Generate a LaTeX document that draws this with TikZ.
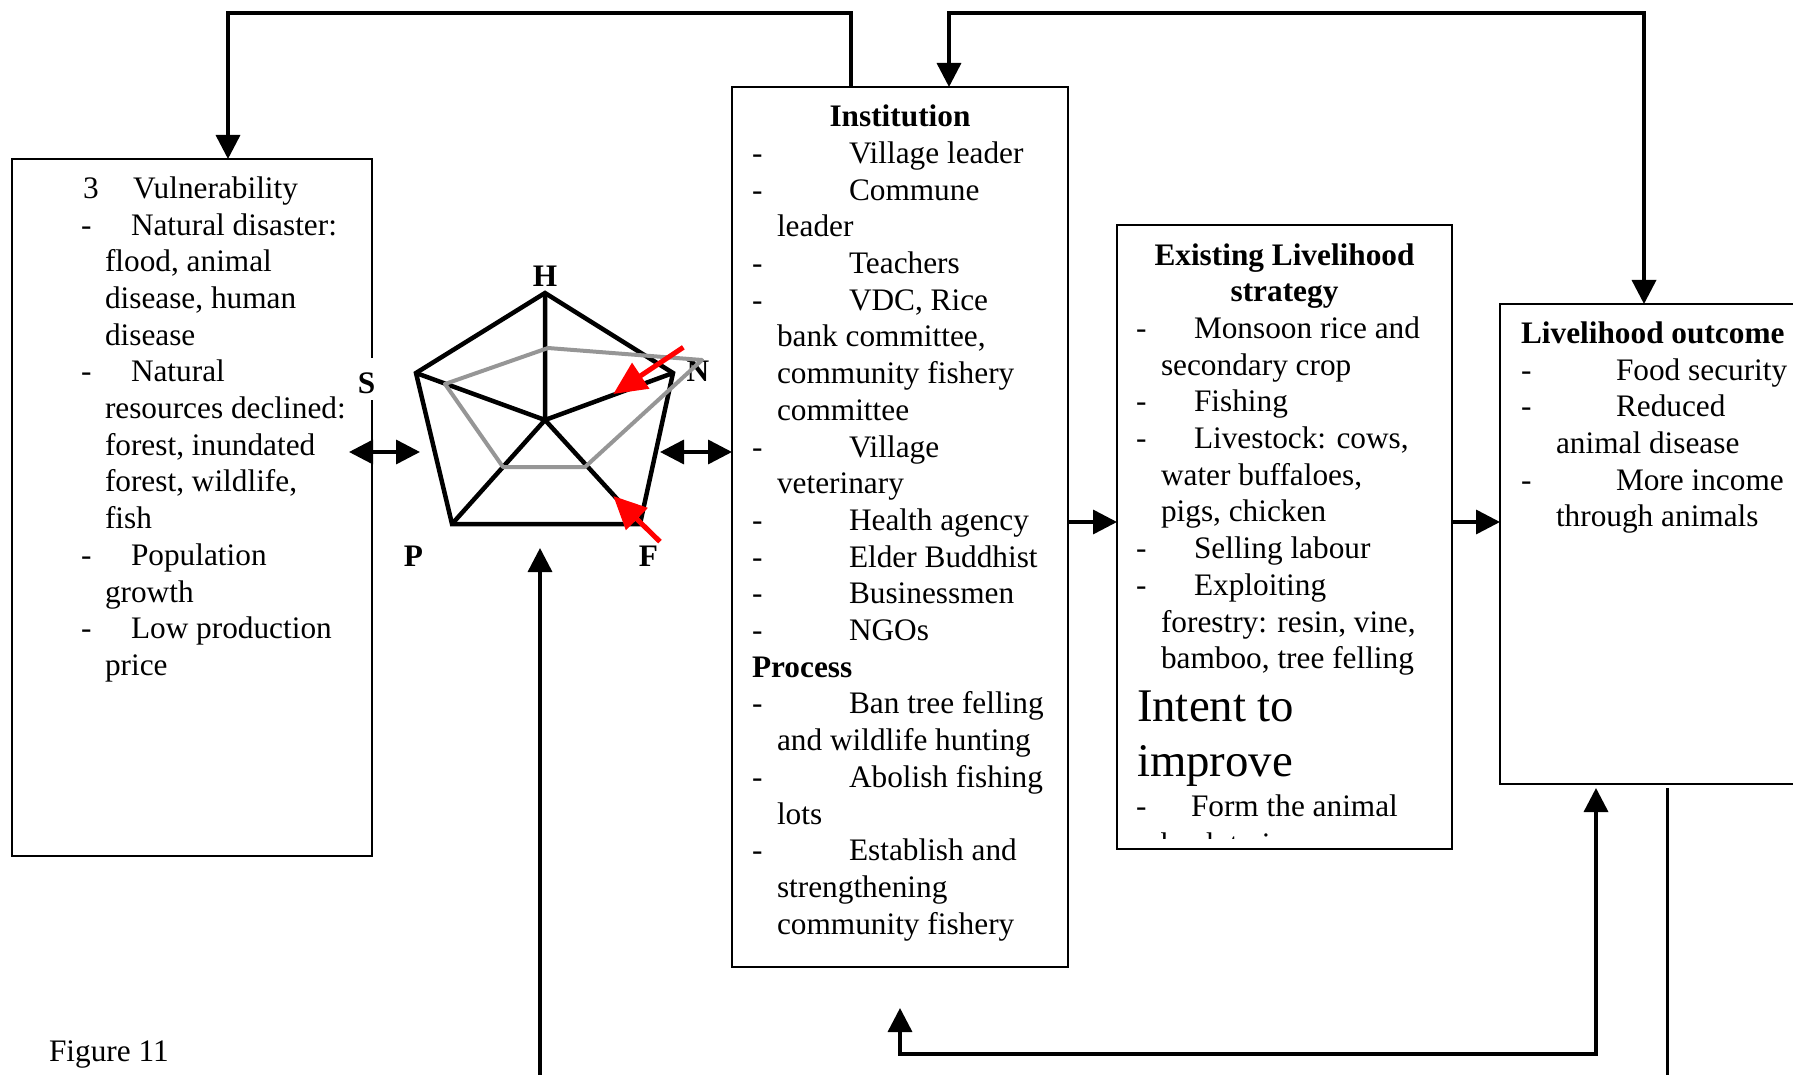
\documentclass[tikz,border=0pt]{standalone}
\usepackage{fontspec}
\setmainfont{Liberation Serif}
\usetikzlibrary{arrows.meta,calc}
\definecolor{pgrey}{RGB}{150,150,150}
\newcounter{tlc}
\newcommand\T[4][]{\stepcounter{tlc}\edef\tlname{tl\arabic{tlc}}\node[txt,#1] (\tlname) at (#2,{#3}) {#4};}
% Vulnerability box lines
\newcommand\VL[2]{\T{105}{198.3+36.7*#1}{#2}}
\newcommand\VD[2]{\T{81}{198.3+36.7*#1}{-}\T{131}{198.3+36.7*#1}{#2}}
% Institution box lines
\newcommand\IL[2]{\T{777}{126.7+36.7*#1}{#2}}
\newcommand\ID[2]{\T{752}{126.7+36.7*#1}{-}\T{849}{126.7+36.7*#1}{#2}}
% Existing strategy lines
\newcommand\EL[2]{\T{1161}{265+36.7*#1}{#2}}
\newcommand\ED[2]{\T{1136}{265+36.7*#1}{-}\T{1194}{265+36.7*#1}{#2}}
% Outcome lines
\newcommand\OL[2]{\T{1556}{343.3+36.7*#1}{#2}}
\newcommand\OD[2]{\T{1521}{343.3+36.7*#1}{-}\T{1616}{343.3+36.7*#1}{#2}}
\tikzset{
  txt/.style={anchor=base west, inner sep=0pt, outer sep=0pt, font=\fontsize{15.65pt}{18pt}\selectfont},
  bold/.style={font=\fontsize{15.65pt}{18pt}\selectfont\bfseries},
  big/.style={font=\fontsize{23.4pt}{28pt}\selectfont},
  box/.style={draw, line width=1pt, inner sep=0pt, outer sep=0pt},
  lbl/.style={anchor=base, inner sep=0pt, outer sep=0pt, font=\fontsize{15.65pt}{18pt}\selectfont\bfseries},
  conn/.style={line width=1.75pt},
  pent/.style={line width=2.25pt, line join=miter},
  greyl/.style={line width=2pt, draw=pgrey, line join=round},
  redarr/.style={line width=2.5pt, draw=red, -{Triangle[length=16.5pt,width=15pt,fill=red]}},
}
\begin{document}
\begin{tikzpicture}[x=0.5pt,y=-0.5pt,>={Triangle[length=12pt,width=12pt]}]
\useasboundingbox (0,0) rectangle (1793,1075);
% boxes
\node[box,minimum width=180pt,minimum height=348.5pt] (vul) at (192,507.5) {};
\node[box,minimum width=168pt,minimum height=440pt] (inst) at (900,527) {};
\node[box,minimum width=167.5pt,minimum height=312pt] (exist) at (1284.5,537) {};
\node[box,minimum width=160pt,minimum height=240pt] (outc) at (1660,544) {};
% pentagon labels
\node[lbl,fill=white,inner xsep=1pt,text height=17.5pt,text depth=3.3pt] (S) at (366.5,393.3) {S};
\node[lbl,fill=white,anchor=base west,text height=15.3pt,text depth=2.2pt] (N) at (686.7,381.7) {N\hspace{13pt}};
\node[lbl] (H) at (545,286.7) {H};
\node[lbl] (P) at (413.5,566.7) {P};
\node[lbl] (F) at (648.5,566.7) {F};
% pentagon
\coordinate (pH) at (545,293);
\coordinate (pS) at (416,373);
\coordinate (pN) at (673,373);
\coordinate (pP) at (452,524);
\coordinate (pF) at (640,524);
\coordinate (pC) at (545,420);
\draw[pent] (pH) -- (pN) -- (pF) -- (pP) -- (pS) -- cycle;
\draw[pent] (pC) -- (pH) (pC) -- (pN) (pC) -- (pF) (pC) -- (pP) (pC) -- (pS);
\coordinate (g1) at (548,348);
\coordinate (g2) at (702,360);
\coordinate (g3) at (585,467);
\coordinate (g4) at (503,467);
\coordinate (g5) at (445,384);
\draw[greyl] (g1) -- (g2) -- (g3) -- (g4) -- (g5) -- cycle;
% red arrows
\coordinate (r1s) at (683.3,347.3);
\coordinate (r1e) at (613.3,394);
\coordinate (r2s) at (660,541.7);
\coordinate (r2e) at (613.3,496);
\draw[redarr] (r1s) -- (r1e);
\draw[redarr] (r2s) -- (r2e);
% Vulnerability text
\T{83}{198.3}{3}
\T{133}{198.3}{Vulnerability}
\VD{1}{Natural disaster:}
\VL{2}{flood, animal}
\VL{3}{disease, human}
\VL{4}{disease}
\VD{5}{Natural}
\VL{6}{resources declined:}
\VL{7}{forest, inundated}
\VL{8}{forest, wildlife,}
\VL{9}{fish}
\VD{10}{Population}
\VL{11}{growth}
\VD{12}{Low production}
\VL{13}{price}
% Institution text
\T[bold,anchor=base]{900}{126.7}{Institution}
\ID{1}{Village leader}
\ID{2}{Commune}
\IL{3}{leader}
\ID{4}{Teachers}
\ID{5}{VDC, Rice}
\IL{6}{bank committee,}
\IL{7}{community fishery}
\IL{8}{committee}
\ID{9}{Village}
\IL{10}{veterinary}
\ID{11}{Health agency}
\ID{12}{Elder Buddhist}
\ID{13}{Businessmen}
\ID{14}{NGOs}
\T[bold]{752}{126.7+36.7*15}{Process}
\ID{16}{Ban tree felling}
\IL{17}{and wildlife hunting}
\ID{18}{Abolish fishing}
\IL{19}{lots}
\ID{20}{Establish and}
\IL{21}{strengthening}
\IL{22}{community fishery}
% Existing strategy text
\T[bold,anchor=base]{1284.5}{265}{Existing Livelihood}
\T[bold,anchor=base]{1284.5}{265+36.7}{strategy}
\ED{2}{Monsoon rice and}
\EL{3}{secondary crop}
\ED{4}{Fishing}
\ED{5}{Livestock: cows,}
\EL{6}{water buffaloes,}
\EL{7}{pigs, chicken}
\ED{8}{Selling labour}
\ED{9}{Exploiting}
\EL{10}{forestry: resin, vine,}
\EL{11}{bamboo, tree felling}
\T[big]{1137}{721.7}{Intent to}
\T[big]{1137}{776.7}{improve}
\T{1136}{816.7}{-}
\T{1191}{816.7}{Form the animal}
\begin{scope}
\clip (1117,225) rectangle (1452,838);
\T{1161}{854.5}{bank to increase}
\end{scope}
% Outcome text
\T[bold]{1521}{343.3}{Livelihood outcome}
\OD{1}{Food security}
\OD{2}{Reduced}
\OL{3}{animal disease}
\OD{4}{More income}
\OL{5}{through animals}
% caption
\T{49}{1061.7}{Figure 11}
% connectors
\coordinate (topY) at (0,13);
\coordinate (botY) at (0,1054);
\coordinate (a1) at ($(inst.north west)+(119,0)$);
\coordinate (a2) at ($(vul.north west)+(216,0)$);
\draw[conn,->] (a1) -- (a1 |- topY) -- (a2 |- topY) -- (a2);
\coordinate (b1) at ($(inst.north west)+(217,0)$);
\coordinate (b2) at ($(outc.north west)+(144,0)$);
\draw[conn,<->] (b1) -- (b1 |- topY) -- (b2 |- topY) -- (b2);
\coordinate (c1) at ($(outc.south west)+(96,0)$);
\coordinate (c2) at (900,1008);
\draw[conn,<->,shorten >=2pt] (c2) -- (c2 |- botY) -- (c1 |- botY) -- (c1);
\coordinate (d1) at ($(outc.south west)+(167.5,4)$);
\coordinate (d2) at (1667.5,1075);
\draw[conn] (d1) -- (d2);
\coordinate (e1) at (540,1075);
\coordinate (e2) at (540,548);
\draw[conn,->] (e1) -- (e2);
\coordinate (f1) at ($(inst.east)+(0,-5)$);
\draw[conn,->] (f1) -- (f1 -| exist.west);
\draw[conn,->] (exist.east |- f1) -- (outc.west |- f1);
\coordinate (h1) at (349,452);
\coordinate (h2) at (420,452);
\draw[conn,<->] (h1) -- (h2);
\coordinate (h3) at (660,452);
\draw[conn,<->] (h3) -- (h3 -| inst.west);
\end{tikzpicture}
\end{document}
